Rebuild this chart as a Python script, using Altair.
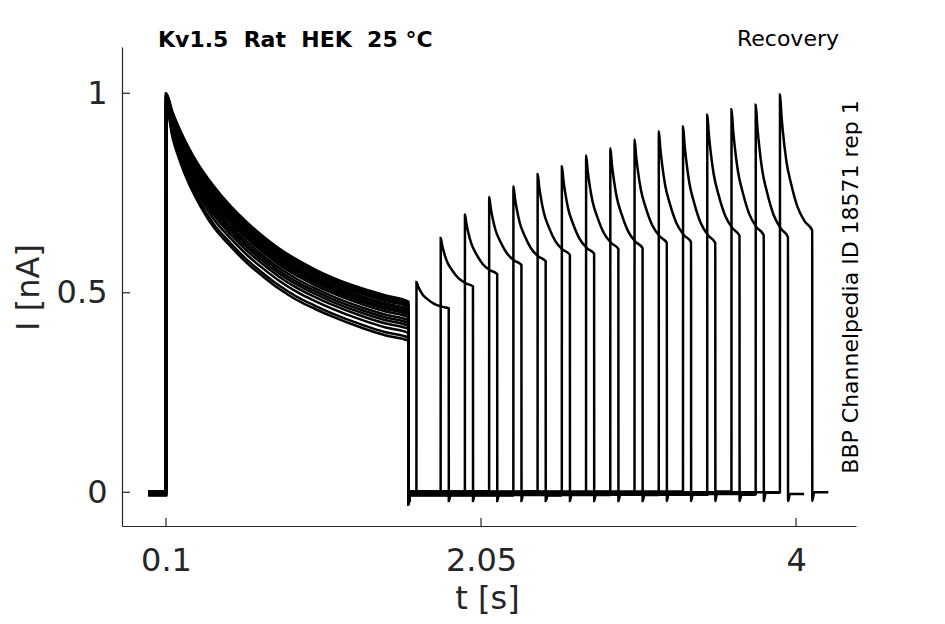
import altair as alt
import pandas as pd

# ---------------- data ----------------
trace_start = -0.01          # s, start of each sweep
step_on = 0.1                # conditioning pulse on
step_off = 1.6               # conditioning pulse off
test_starts = [1.65, 1.80, 1.95, 2.10, 2.25, 2.40, 2.55, 2.70,
               2.85, 3.00, 3.15, 3.30, 3.45, 3.60, 3.75, 3.90]
test_len = 0.2
tail_len = 0.1

# envelope of the conditioning-pulse traces (read at these times)
first_t = [0.1, 0.14, 0.19, 0.24, 0.29, 0.39, 0.5, 0.6, 0.7, 0.8, 0.91, 1.02, 1.12, 1.32, 1.46, 1.6]
first_upper = [1.0, 0.953, 0.905, 0.864, 0.828, 0.77, 0.717, 0.677, 0.642, 0.611, 0.583, 0.559, 0.540, 0.510, 0.493, 0.478]
first_lower = [0.97, 0.89, 0.826, 0.775, 0.734, 0.667, 0.616, 0.575, 0.541, 0.51, 0.482, 0.46, 0.442, 0.411, 0.393, 0.38]
band_pos = [1.0, 0.95, 0.9, 0.86, 0.8, 0.75, 0.7, 0.66, 0.6, 0.52, 0.45, 0.38, 0.3, 0.2, 0.08, 0.0]
baseline = [-0.005, 0.001, -0.003, 0.002, -0.008, -0.001, 0.001, -0.004,
            -0.007, 0.0, -0.002, 0.002, -0.006, -0.001, -0.004, 0.0]

# test pulses: peak and end values
test_peak = [0.527, 0.637, 0.696, 0.740, 0.767, 0.798, 0.817, 0.844,
             0.862, 0.884, 0.905, 0.917, 0.946, 0.960, 0.971, 0.997]
test_end = [0.461, 0.516, 0.547, 0.570, 0.579, 0.595, 0.598, 0.610,
            0.612, 0.625, 0.627, 0.625, 0.643, 0.644, 0.640, 0.656]
# decay profile of a test pulse (fraction of peak-end) read from the last sweep
test_dt = [0.0, 0.01, 0.02, 0.04, 0.07, 0.11, 0.155, 0.2]
test_f = [1.0, 0.84, 0.71, 0.51, 0.34, 0.17, 0.065, 0.0]
off_dip = -0.03
test_dip = -0.022

x_ticks = [0.1, 2.05, 4]
y_ticks = [0, 0.5, 1]
x_domain = [-0.1724, 4.371]
y_domain = [-0.0845, 1.116]

title_text = "Kv1.5\u00a0\u00a0Rat\u00a0\u00a0HEK\u00a0\u00a025\u00a0°C"
right_text = "Recovery"
side_text = "BBP Channelpedia ID 18571 rep 1"

# ---------------- build sweep table ----------------
rows = []
for k in range(len(test_starts)):
    b = baseline[k]
    w = band_pos[k]
    pts = [(trace_start, b), (step_on, b)]
    for t, u, l in zip(first_t, first_upper, first_lower):
        tt = t + 0.0005 if t == step_on else t
        pts.append((tt, l + w * (u - l)))
    pts.append((step_off + 0.0005, off_dip))
    pts.append((step_off + 0.012, b))
    ts = test_starts[k]
    pts.append((ts, b))
    for dt, f in zip(test_dt, test_f):
        tt = ts + dt + (0.0005 if dt == 0 else 0)
        pts.append((tt, test_end[k] + f * (test_peak[k] - test_end[k])))
    te = ts + test_len
    pts.append((te + 0.0005, test_dip))
    pts.append((te + 0.012, b))
    pts.append((te + tail_len, b))
    for i, (t, v) in enumerate(pts):
        rows.append({"trace": k, "i": i, "t": t, "v": v})
df = pd.DataFrame(rows)

AX = "#262626"
FONT = "DejaVu Sans"
W, H = 734, 479
FS = 32

xs = alt.Scale(domain=x_domain, nice=False, zero=False)
ys = alt.Scale(domain=y_domain, nice=False, zero=False)

x_axis = alt.Axis(values=x_ticks, format=".3~g", ticks=False, tickSize=0, grid=False,
                  domainColor=AX, domainWidth=1.2, labelFont=FONT, labelFontSize=FS,
                  labelColor=AX, labelPadding=19, title="t [s]", titleFont=FONT,
                  titleFontSize=FS, titleFontWeight="normal", titleColor=AX,
                  titleX=365, titleY=72, titleBaseline="middle")
y_axis = alt.Axis(values=y_ticks, format=".3~g", ticks=False, tickSize=0, grid=False,
                  domainColor=AX, domainWidth=1.2, labelFont=FONT, labelFontSize=FS,
                  labelColor=AX, labelPadding=15, title="I [nA]", titleFont=FONT,
                  titleFontSize=FS, titleFontWeight="normal", titleColor=AX,
                  titleX=-94, titleY=240, titleAngle=270, titleBaseline="middle")

lines = alt.Chart(df).mark_line(color="black", strokeWidth=2.5, interpolate="monotone", clip=True).encode(
    x=alt.X("t:Q", scale=xs, axis=x_axis),
    y=alt.Y("v:Q", scale=ys, axis=y_axis),
    detail="trace:N",
    order="i:Q",
)

xt = alt.Chart(pd.DataFrame({"t": x_ticks})).mark_rule(color=AX, strokeWidth=1.2).encode(
    x=alt.X("t:Q", scale=xs), y=alt.value(H), y2=alt.value(H - 8))
yt = alt.Chart(pd.DataFrame({"v": y_ticks})).mark_rule(color=AX, strokeWidth=1.2).encode(
    y=alt.Y("v:Q", scale=ys), x=alt.value(0), x2=alt.value(8))

t1 = alt.Chart(pd.DataFrame({"s": [title_text]})).mark_text(
    font=FONT, fontSize=22, fontWeight="bold", color="black", align="left", baseline="middle"
).encode(text="s:N", x=alt.value(36), y=alt.value(-7))
t2 = alt.Chart(pd.DataFrame({"s": [right_text]})).mark_text(
    font=FONT, fontSize=22, color="black", align="right", baseline="middle"
).encode(text="s:N", x=alt.value(717), y=alt.value(-8))
t3 = alt.Chart(pd.DataFrame({"s": [side_text]})).mark_text(
    font=FONT, fontSize=22, color="black", align="center", baseline="middle", angle=270
).encode(text="s:N", x=alt.value(729), y=alt.value(240))

chart = alt.layer(lines, xt, yt, t1, t2, t3).properties(
    width=W, height=H,
    autosize=alt.AutoSizeParams(type="none"),
    padding={"left": 114, "top": 39, "right": 70, "bottom": 90},
    background="white",
).configure_view(stroke="transparent")

chart.save("out.html", embed_options={"renderer": "svg", "actions": False})
